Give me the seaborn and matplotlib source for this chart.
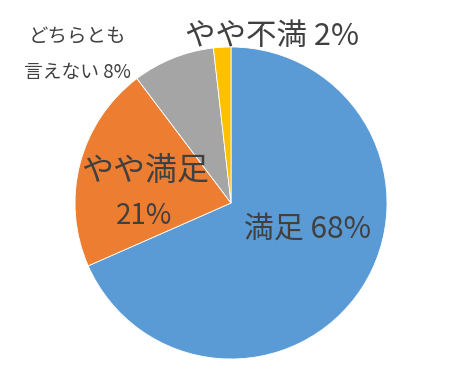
import matplotlib
matplotlib.use("Agg")
import matplotlib.pyplot as plt
import seaborn as sns

sns.set_style("white")
plt.rcParams["font.family"] = ["Noto Sans CJK JP", "DejaVu Sans"]

# ---------- DATA ----------
categories = ["満足", "やや満足", "どちらとも言えない", "やや不満"]
shares = [68.4, 21.3, 8.5, 1.8]
pct_labels = ["68%", "21%", "8%", "2%"]
colors = ["#5B9BD5", "#ED7D31", "#A5A5A5", "#FFC000"]

TXT = "#404040"

fig = plt.figure(figsize=(4.63, 3.75), dpi=100)
ax = fig.add_axes([0, 0, 1, 1])

ax.pie(
    shares,
    colors=colors,
    startangle=90,
    counterclock=False,
    radius=1.0,
    wedgeprops=dict(edgecolor="white", linewidth=0.6),
)

# pixel layout: centre at (231, 203), radius 156 px
cx, cy, r = 231, 203, 156
ax.set_xlim(-cx / r, (463 - cx) / r)
ax.set_ylim(-(375 - cy) / r, cy / r)
ax.set_aspect("auto")
ax.axis("off")


def pos(px, py):
    return (px - cx) / r, (cy - py) / r


# ---------- LABELS ----------
x, y = pos(308, 229)
ax.text(x, y, f"{categories[0]} {pct_labels[0]}", fontsize=21.5, color=TXT,
        ha="center", va="center")

x, y = pos(145, 171)
ax.text(x, y, categories[1], fontsize=23, color=TXT, ha="center", va="center")
x, y = pos(144, 216)
ax.text(x, y, pct_labels[1], fontsize=20, color=TXT, ha="center", va="center")

x, y = pos(77, 37)
ax.text(x, y, categories[2][:5], fontsize=14, color=TXT, ha="center", va="center")
x, y = pos(77, 72)
ax.text(x, y, f"{categories[2][5:]} {pct_labels[2]}", fontsize=13.5, color=TXT,
        ha="center", va="center")

x, y = pos(272, 36)
ax.text(x, y, f"{categories[3]} {pct_labels[3]}", fontsize=22, color=TXT,
        ha="center", va="center")

fig.savefig("out.png", dpi=100, facecolor="white")
